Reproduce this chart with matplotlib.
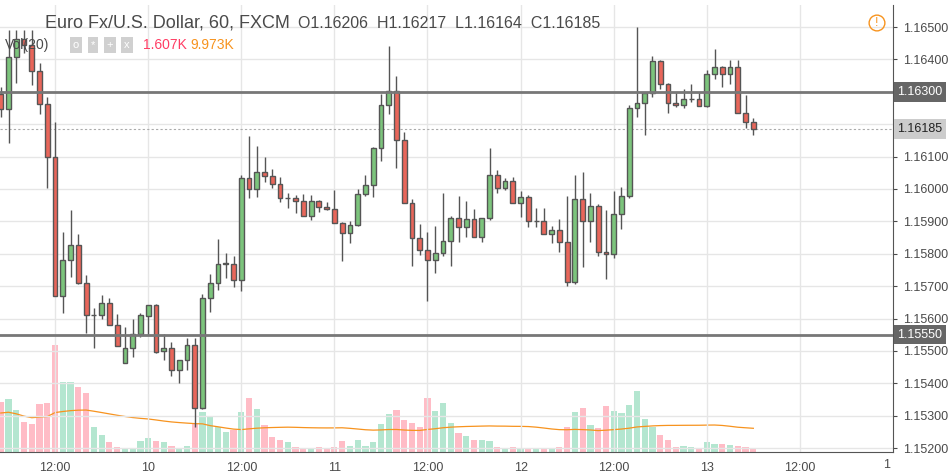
import numpy as np
import pandas as pd
import matplotlib
matplotlib.use('Agg')
import matplotlib.pyplot as plt
from matplotlib.patches import Rectangle

plt.rcParams['font.family'] = ['Liberation Sans', 'DejaVu Sans']

# hourly EUR/USD candles, 9th 05:00 onwards
opens = [1.16293, 1.16247, 1.16407, 1.16463, 1.16444, 1.16364, 1.16262, 1.16099, 1.15670, 1.15781,
         1.15827, 1.15710, 1.15611, 1.15611, 1.15648, 1.15580, 1.15463, 1.15509, 1.15553, 1.15608,
         1.15642, 1.15500, 1.15509, 1.15441, 1.15472, 1.15519, 1.15324, 1.15664, 1.15710, 1.15769,
         1.15769, 1.15719, 1.16034, 1.16000, 1.16053, 1.16040, 1.16016, 1.15972, 1.15972, 1.15963,
         1.15917, 1.15963, 1.15945, 1.15938, 1.15895, 1.15864, 1.15889, 1.15985, 1.16012, 1.16127,
         1.16259, 1.16302, 1.16151, 1.15957, 1.15849, 1.15812, 1.15781, 1.15803, 1.15840, 1.15911,
         1.15883, 1.15908, 1.15852, 1.15911, 1.16043, 1.16003, 1.16025, 1.15957, 1.15975, 1.15901,
         1.15901, 1.15861, 1.15874, 1.15837, 1.15713, 1.15969, 1.15901, 1.15948, 1.15806, 1.15800,
         1.15923, 1.15978, 1.16250, 1.16265, 1.16296, 1.16395, 1.16324, 1.16265, 1.16259, 1.16278,
         1.16278, 1.16256, 1.16355, 1.16377, 1.16355, 1.16377, 1.16235, 1.16207]
highs = [1.16315, 1.16491, 1.16491, 1.16491, 1.16491, 1.16389, 1.16284, 1.16207, 1.15867, 1.15935,
         1.15861, 1.15735, 1.15633, 1.15673, 1.15664, 1.15614, 1.15574, 1.15599, 1.15617, 1.15642,
         1.15645, 1.15553, 1.15528, 1.15472, 1.15540, 1.15540, 1.15676, 1.15738, 1.15846, 1.15803,
         1.15793, 1.16043, 1.16164, 1.16133, 1.16099, 1.16062, 1.16037, 1.15988, 1.15982, 1.15985,
         1.15982, 1.15966, 1.15960, 1.15997, 1.15898, 1.15901, 1.16000, 1.16043, 1.16130, 1.16293,
         1.16441, 1.16349, 1.16176, 1.15969, 1.15892, 1.15867, 1.15886, 1.15988, 1.15917, 1.15978,
         1.15963, 1.15938, 1.15911, 1.16127, 1.16059, 1.16034, 1.16037, 1.15994, 1.15982, 1.15941,
         1.15941, 1.15886, 1.15908, 1.15978, 1.16043, 1.16053, 1.15988, 1.15954, 1.15935, 1.15994,
         1.16006, 1.16259, 1.16500, 1.16296, 1.16411, 1.16398, 1.16326, 1.16299, 1.16309, 1.16324,
         1.16299, 1.16367, 1.16432, 1.16379, 1.16398, 1.16398, 1.16290, 1.16219]
lows = [1.16222, 1.16142, 1.16327, 1.16420, 1.16321, 1.16232, 1.16003, 1.15670, 1.15617, 1.15729,
        1.15707, 1.15556, 1.15509, 1.15599, 1.15580, 1.15516, 1.15463, 1.15482, 1.15543, 1.15549,
        1.15494, 1.15472, 1.15423, 1.15401, 1.15441, 1.15266, 1.15320, 1.15620, 1.15688, 1.15725,
        1.15698, 1.15685, 1.15972, 1.15975, 1.16022, 1.16003, 1.15960, 1.15941, 1.15926, 1.15917,
        1.15904, 1.15929, 1.15936, 1.15895, 1.15778, 1.15833, 1.15887, 1.15978, 1.15975, 1.16086,
        1.16232, 1.16065, 1.15957, 1.15762, 1.15796, 1.15654, 1.15741, 1.15793, 1.15762, 1.15837,
        1.15852, 1.15852, 1.15837, 1.15904, 1.15988, 1.15997, 1.15957, 1.15914, 1.15883, 1.15883,
        1.15861, 1.15833, 1.15806, 1.15701, 1.15707, 1.15759, 1.15837, 1.15793, 1.15722, 1.15787,
        1.15877, 1.15972, 1.16222, 1.16167, 1.16284, 1.16309, 1.16235, 1.16253, 1.16250, 1.16269,
        1.16256, 1.16254, 1.16340, 1.16315, 1.16324, 1.16235, 1.16188, 1.16167]
closes = [1.16247, 1.16407, 1.16463, 1.16444, 1.16364, 1.16262, 1.16099, 1.15670, 1.15781, 1.15827,
          1.15710, 1.15611, 1.15612, 1.15648, 1.15580, 1.15516, 1.15509, 1.15553, 1.15611, 1.15642,
          1.15497, 1.15509, 1.15441, 1.15472, 1.15519, 1.15324, 1.15664, 1.15710, 1.15769, 1.15770,
          1.15719, 1.16034, 1.16000, 1.16053, 1.16040, 1.16016, 1.15972, 1.15973, 1.15963, 1.15917,
          1.15963, 1.15945, 1.15938, 1.15895, 1.15864, 1.15889, 1.15985, 1.16012, 1.16127, 1.16259,
          1.16302, 1.16151, 1.15957, 1.15849, 1.15812, 1.15781, 1.15803, 1.15840, 1.15911, 1.15883,
          1.15908, 1.15852, 1.15911, 1.16043, 1.16003, 1.16025, 1.15957, 1.15975, 1.15901, 1.15902,
          1.15861, 1.15874, 1.15837, 1.15713, 1.15969, 1.15901, 1.15948, 1.15806, 1.15800, 1.15923,
          1.15978, 1.16250, 1.16265, 1.16296, 1.16395, 1.16324, 1.16265, 1.16259, 1.16278, 1.16279,
          1.16256, 1.16355, 1.16377, 1.16355, 1.16377, 1.16235, 1.16207, 1.16185]
# volume in thousands
volumes = [25.0, 26.5, 21.0, 15.0, 14.0, 24.0, 24.5, 53.5, 35.0, 35.0,
           32.5, 29.5, 12.5, 8.5, 5.0, 2.5, 2.0, 2.0, 5.5, 7.0,
           5.5, 5.0, 3.0, 2.0, 3.0, 14.0, 20.0, 17.5, 12.5, 10.0,
           11.0, 20.0, 27.0, 21.5, 13.5, 7.5, 6.0, 5.0, 2.5, 2.0,
           2.0, 2.5, 2.0, 2.5, 5.5, 3.0, 6.0, 3.0, 5.0, 14.0,
           19.0, 21.0, 16.0, 14.5, 12.5, 27.0, 20.5, 24.5, 14.5, 9.5,
           8.0, 6.0, 6.0, 5.5, 2.5, 2.0, 2.5, 2.0, 1.5, 2.0,
           1.5, 2.0, 2.5, 12.5, 20.0, 22.0, 13.5, 12.0, 23.0, 20.5,
           19.5, 23.5, 30.5, 16.5, 12.5, 8.5, 6.0, 2.5, 3.0, 2.5,
           2.0, 5.0, 4.0, 4.0, 3.5, 3.0, 2.5, 1.6]
level_lines = [1.16300, 1.15550]
last_price = 1.16185
tick_pos = [7, 19, 31, 43, 55, 67, 79, 91, 103]
tick_labels = ['12:00', '10', '12:00', '11', '12:00', '12', '12:00', '13', '12:00']

up_col = '#7cc47c'
dn_col = '#e8665a'
edge = '#555555'
txt = '#4a4a4a'

W, H = 948, 475
fig = plt.figure(figsize=(W / 100, H / 100), dpi=100)
ax = fig.add_axes([0, 1 - 452 / H, 893 / W, 447 / H])
axv = ax.twinx()
ax.set_zorder(2)
ax.patch.set_visible(False)

n = len(opens)
x = np.arange(n)
vcols = ['#b4e6d0' if c >= o else '#ffbcc6' for o, c in zip(opens, closes)]
axv.bar(x, volumes, width=0.8, color=vcols, zorder=1)
ma = pd.Series(volumes).rolling(20, min_periods=1).mean() * 0.5 + 7
axv.plot(x, ma, color='#f7931e', lw=0.9, zorder=2)
axv.set_ylim(0, 223.5)
axv.set_yticks([])
for s in axv.spines.values():
    s.set_visible(False)

bw = 0.62
for i in range(n):
    o, h, l, c = opens[i], highs[i], lows[i], closes[i]
    ax.vlines(i, l, h, color=edge, lw=1, zorder=3)
    col = up_col if c >= o else dn_col
    bot = min(o, c)
    hgt = max(abs(c - o), 0.000008)
    ax.add_patch(Rectangle((i - bw / 2, bot), bw, hgt, facecolor=col,
                           edgecolor=edge, lw=1, zorder=4))

for lv in level_lines:
    ax.axhline(lv, color='#777777', lw=2, zorder=5)
ax.axhline(last_price, color='#aaaaaa', lw=0.8, ls=(0, (2, 2)), zorder=1)

ax.set_xlim(-0.1, 115)
ax.set_ylim(1.15188, 1.16568)
yt = np.round(np.arange(1.152, 1.1651, 0.001), 3)
ax.set_yticks(yt)
# labels hidden under the price boxes
ax.set_yticklabels(['' if v in (1.162, 1.163) else f'{v:.5f}' for v in yt])
ax.yaxis.tick_right()
ax.tick_params(axis='y', colors=txt, labelsize=9, length=3, pad=4)
ax.set_xticks(tick_pos)
ax.set_xticklabels(tick_labels)
ax.tick_params(axis='x', colors=txt, labelsize=9, length=0, pad=7)
ax.grid(True, color='#e6e6e6', lw=1, zorder=0)
ax.set_axisbelow(True)
for s in ['left', 'top']:
    ax.spines[s].set_visible(False)
for s in ['right', 'bottom']:
    ax.spines[s].set_color('#555555')

# price labels on the scale
for lv in level_lines:
    ax.text(1.005, lv, f'{lv:.5f}', transform=ax.get_yaxis_transform(), va='center', ha='left',
            fontsize=9, color='white', zorder=10,
            bbox=dict(boxstyle='square,pad=0.3', fc='#666666', ec='none'))
ax.text(1.005, last_price, f'{last_price:.5f}', transform=ax.get_yaxis_transform(), va='center',
        ha='left', fontsize=9, color='#222222', zorder=10,
        bbox=dict(boxstyle='square,pad=0.3', fc='#cccccc', ec='none'))

fig.text(887 / W, 1 - 465 / H, '1', fontsize=9, color=txt, ha='center', va='center')
fig.text(45 / W, 1 - 23 / H, 'Euro Fx/U.S. Dollar, 60, FXCM', fontsize=13, color=txt, va='center')
fig.text(298 / W, 1 - 23 / H, 'O1.16206  H1.16217  L1.16164  C1.16185', fontsize=11.5, color=txt,
         va='center')
fig.text(5 / W, 1 - 45 / H, 'Vol(20)', fontsize=10, color=txt, va='center')
for k, sym in enumerate(['o', '*', '+', 'x']):
    fig.text((76 + k * 17) / W, 1 - 45 / H, sym, fontsize=8, color='white', ha='center', va='center',
             bbox=dict(boxstyle='square,pad=0.25', fc='#d0d0d0', ec='none'))
fig.text(143 / W, 1 - 45 / H, '1.607K', fontsize=10, color='#ff3d64', va='center')
fig.text(190 / W, 1 - 45 / H, '9.973K', fontsize=10, color='#f7931e', va='center')
fig.text(877 / W, 1 - 23 / H, '!', fontsize=9, color='#f7931e', ha='center', va='center',
         bbox=dict(boxstyle='circle,pad=0.15', fc='none', ec='#f7931e'))

fig.savefig('out.png', dpi=100)
